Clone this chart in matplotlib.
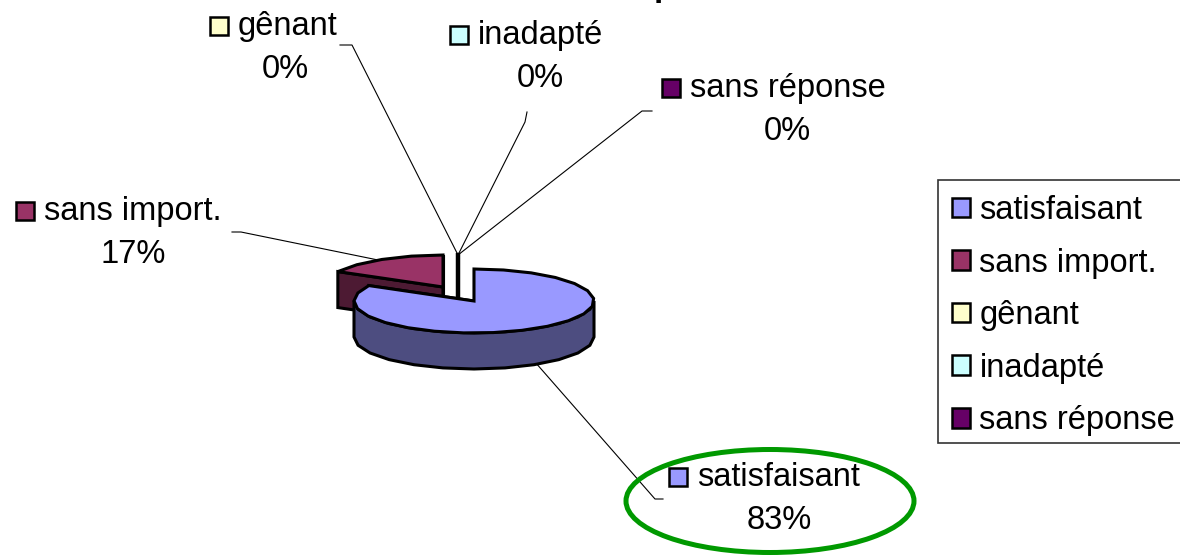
import matplotlib
matplotlib.use('Agg')
import matplotlib.pyplot as plt
from matplotlib.patches import Ellipse, Patch, Polygon, Rectangle
import numpy as np

plt.rcParams['font.family'] = ['Liberation Sans', 'DejaVu Sans']

categories = ['satisfaisant', 'sans import.', 'gênant', 'inadapté', 'sans réponse']
values = [83, 17, 0, 0, 0]
top_colors = ['#9999ff', '#993366', '#ffffcc', '#ccffff', '#660066']
side_colors = ['#4d4d80', '#4d1a33', '#808066', '#668080', '#330033']

# centre de chaque secteur (pixels), le secteur 0 n'est pas decale
centers = [(474, 301), (443, 287), (458, 287), (458, 287), (458, 287)]
# bord gauche du nom, ligne de base du nom, centre du pourcentage
name_x = [697, 44, 238, 478, 690]
name_y = [486, 220, 35, 44, 97]
pct_x = [779, 133, 285, 540, 787]
leaders = [
    [(663, 499), (655, 499), (535, 362)],
    [(232, 232), (241, 232), (378, 260)],
    [(340, 45), (352, 45), (458, 255)],
    [(527, 112), (525, 122), (458, 255)],
    [(652, 111), (642, 111), (458, 255)],
]
rx, ry, depth = 120, 32, 36
step = 14  # le contour d'origine est grossier, on garde des segments visibles


def arc_points(cx, cy, a1, a2):
    n = max(int(abs(a2 - a1) / step), 1)
    ang = np.radians(np.linspace(a1, a2, n + 1))
    return np.column_stack([cx + rx * np.cos(ang), cy - ry * np.sin(ang)])


def draw_slice(ax, c, a1, a2, top, side, z):
    cx, cy = c
    arc = arc_points(cx, cy, a1, a2)
    # paroi visible : partie de l'arc dans la moitie basse
    lo, hi = min(a1, a2), max(a1, a2)
    for k in range(-1, 2):
        s1, s2 = max(lo, 180 + 360 * k), min(hi, 360 + 360 * k)
        if s2 > s1:
            wall = arc_points(cx, cy, s1, s2)
            low = wall + [0, depth]
            ax.add_patch(Polygon(np.vstack([wall, low[::-1]]), closed=True, fc=side,
                                 ec='black', lw=2.2, joinstyle='miter', zorder=z))
    # face coupee du secteur
    for a in (a1, a2):
        p = arc_points(cx, cy, a, a)[0]
        face = [(cx, cy), p, p + [0, depth], (cx, cy + depth)]
        ax.add_patch(Polygon(face, closed=True, fc=side, ec='black', lw=2.2, zorder=z - 0.5))
    ax.add_patch(Polygon(np.vstack([[cx, cy], arc]), closed=True, fc=top, ec='black',
                         lw=2.2, joinstyle='miter', zorder=z + 0.2))


fig = plt.figure(figsize=(11.8, 5.55), dpi=100)
ax = fig.add_axes([0, 0, 1, 1])
ax.set_xlim(0, 1180)
ax.set_ylim(555, 0)
ax.axis('off')

# titre coupe en haut de l'image
ax.text(654, -4, 'p', fontsize=24, fontweight='bold', ha='left', va='baseline')

# secteurs, sens horaire depuis le haut
total = sum(values)
start = 90
angles = []
for v in values:
    end = start - v / total * 360
    angles.append((start, end))
    start = end

order = [1, 4, 3, 2, 0]
for i, k in enumerate(order):
    a1, a2 = angles[k]
    if values[k] == 0:
        cx, cy = centers[k]
        ax.plot([cx, cx], [cy - ry, cy + 11], color='black', lw=3, zorder=2 + i)
    else:
        draw_slice(ax, centers[k], a1, a2, top_colors[k], side_colors[k], 2 + i)

for pts in leaders:
    xs, ys = zip(*pts)
    ax.plot(xs, ys, color='black', lw=0.8, zorder=1)

# ellipse verte autour de la reponse principale
ax.add_patch(Ellipse((770, 501), 288, 103, fc='none', ec='#009900', lw=3.6, zorder=10))

# etiquettes : carre de couleur + nom, pourcentage dessous
for k in range(len(categories)):
    ax.text(name_x[k], name_y[k], categories[k], fontsize=23.5, ha='left', va='baseline', zorder=11)
    ax.text(pct_x[k], name_y[k] + 43, f'{values[k]}%', fontsize=23.5, ha='center', va='baseline',
            zorder=11)
    ax.plot([name_x[k] - 19], [name_y[k] - 9], marker='s', ms=12.5, mfc=top_colors[k], mec='black',
            mew=1.8, zorder=11)

# cadre de la legende dessine a part, il deborde a droite comme l'original
ax.add_patch(Rectangle((938, 180), 260, 263, fc='white', ec='#333333', lw=1.2, zorder=12))
handles = [Patch(fc=c, ec='black', lw=1.8) for c in top_colors]
leg = ax.legend(handles, categories, loc='upper left', bbox_to_anchor=(939 / 1180, 1 - 182 / 555),
                borderaxespad=0, fontsize=23.5, frameon=False, handlelength=0.55, handleheight=0.55,
                handletextpad=0.29, labelspacing=0.66, borderpad=0.4)
leg.set_zorder(13)

fig.savefig('out.png', dpi=100)
